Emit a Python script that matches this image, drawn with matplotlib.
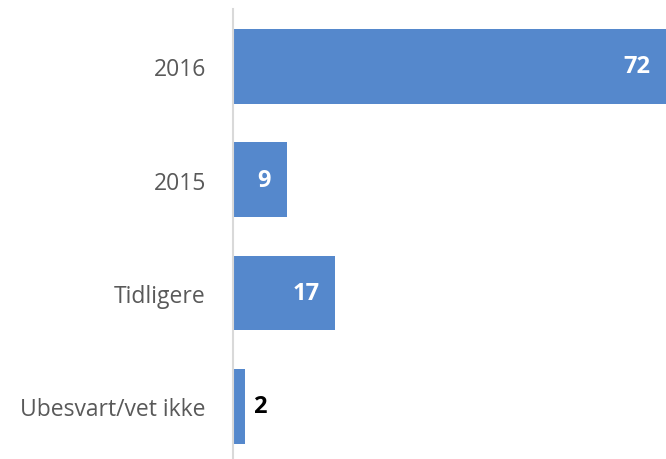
import matplotlib
matplotlib.use("Agg")
import matplotlib.pyplot as plt
from matplotlib.transforms import offset_copy

categories = ["2016", "2015", "Tidligere", "Ubesvart/vet ikke"]
values = [72, 9, 17, 2]

plt.rcParams['font.family'] = ['Open Sans', 'DejaVu Sans']

fig = plt.figure(figsize=(6.66, 4.60), dpi=100)
ax = fig.add_axes([233/666, 0, 433/666, 450/460])
ypos = list(range(len(categories)))
bars = ax.barh(ypos, values, height=0.66, color='#5588CC')
ax.set_xlim(0, 72)
ax.set_ylim(3.465, -0.507)
ax.set_yticks(ypos)
ax.set_yticklabels(categories, fontsize=16.5, color='#595959')
ax.tick_params(axis='y', length=0, pad=19.5)
ax.set_xticks([])
for s in ['top', 'right', 'bottom']:
    ax.spines[s].set_visible(False)
ax.spines['left'].set_color('#D9D9D9')
ax.spines['left'].set_linewidth(1.5)

for y, v in zip(ypos, values):
    if v >= 5:
        tr = offset_copy(ax.transData, fig=fig, x=-11.5, y=0, units='points')
        ax.text(v, y, str(v), transform=tr, ha='right', va='center',
                color='white', fontsize=17, fontweight='bold')
    else:
        tr = offset_copy(ax.transData, fig=fig, x=6, y=0, units='points')
        ax.text(v, y, str(v), transform=tr, ha='left', va='center',
                color='black', fontsize=17, fontweight='bold')

fig.savefig('out.png', dpi=100)
